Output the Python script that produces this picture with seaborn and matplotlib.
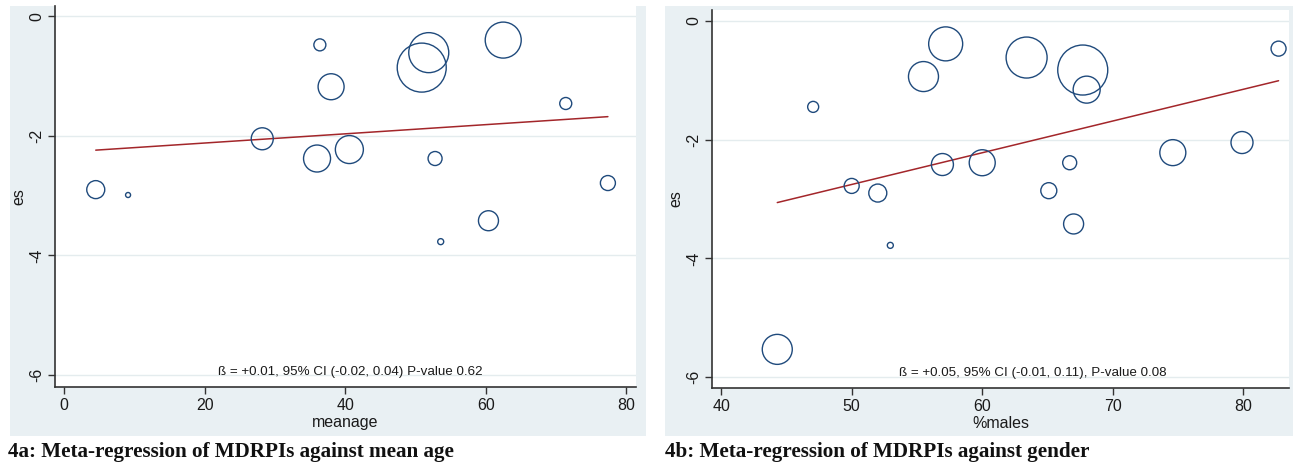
"""
Meta-regression bubble plots: effect size (es) vs mean age and vs % males
"""
import numpy as np
import pandas as pd
import matplotlib
matplotlib.use('Agg')
import matplotlib.pyplot as plt
from matplotlib.patches import Rectangle
import seaborn as sns

# ============================================================================
# DATA
# ============================================================================
# panel 4a: mean age
age_x = [4.5, 9.1, 28.2, 36.4, 38.0, 36.0, 40.6, 50.9, 51.9, 62.5, 52.8, 53.6, 60.4, 71.4, 77.4]
age_es = [-2.90, -2.99, -2.05, -0.48, -1.18, -2.38, -2.23, -0.86, -0.61, -0.40, -2.38, -3.77, -3.42, -1.46, -2.79]
age_r = [9, 2.5, 11, 6, 13, 13.5, 14, 24.5, 20, 18, 7, 3, 10, 6, 7.5]   # bubble radius, px
age_fit_x = [4.5, 77.4]
age_fit_y = [-2.24, -1.68]
age_note = 'ß = +0.01, 95% CI (-0.02, 0.04) P-value 0.62'

# panel 4b: % males
males_x = [44.3, 47.05, 50.0, 52.0, 52.96, 55.5, 57.2, 56.95, 60.0, 63.4, 67.7, 68.0,
           65.1, 66.7, 67.0, 74.6, 79.9, 82.7]
males_es = [-5.53, -1.45, -2.78, -2.90, -3.78, -0.94, -0.39, -2.42, -2.39, -0.62, -0.83, -1.16,
            -2.86, -2.39, -3.42, -2.22, -2.05, -0.47]
males_r = [15, 5.5, 7.5, 9, 3, 15, 17, 11, 13, 20.5, 25, 13.5, 8, 7, 10, 13, 11, 7.5]
males_fit_x = [44.3, 82.7]
males_fit_y = [-3.06, -1.01]
males_note = 'ß = +0.05, 95% CI (-0.01, 0.11), P-value 0.08'

# ============================================================================
# STYLE
# ============================================================================
sns.set_theme(style='white')
plt.rcParams['font.family'] = ['Liberation Sans', 'DejaVu Sans']

W, H, DPI = 1293, 463, 100
PANEL_BG = '#e9f0f3'
CIRCLE = '#1f4a7c'
FIT = '#a3262a'
TXT = '#1a1a1a'

fig = plt.figure(figsize=(W / DPI, H / DPI), dpi=DPI)
fig.patch.set_facecolor('white')


def px_box(x0, y0, x1, y1):
    """pixel box (top-left origin) -> figure fraction [l, b, w, h]"""
    return [x0 / W, 1 - y1 / H, (x1 - x0) / W, (y1 - y0) / H]


# panel backgrounds (behind the axes)
for x0, x1 in [(10, 646), (665, 1293)]:
    l, b, w, h = px_box(x0, 6, x1, 436)
    fig.patches.append(Rectangle((l, b), w, h, transform=fig.transFigure,
                                 facecolor=PANEL_BG, edgecolor='none', zorder=-10))


def draw_panel(box, xs, es, radii, fit_x, fit_y, xlim, ylim, xticks, xlabel, note, note_x):
    ax = fig.add_axes(box)
    ax.set_facecolor('white')
    df = pd.DataFrame({'x': xs, 'es': es, 'area': [(1.44 * r) ** 2 for r in radii]})
    amin, amax = df['area'].min(), df['area'].max()

    for yv in [0, -2, -4, -6]:
        ax.axhline(yv, color='#e4ecee', lw=1.0, zorder=0)

    sns.lineplot(x=fit_x, y=fit_y, color=FIT, lw=1.1, ax=ax, zorder=2)
    sns.scatterplot(data=df, x='x', y='es', size='area', sizes=(amin, amax),
                    size_norm=(amin, amax), legend=False, marker='o',
                    facecolor='none', edgecolor=CIRCLE, linewidth=1.0, ax=ax, zorder=3)

    ax.set_xlim(*xlim)
    ax.set_ylim(*ylim)
    ax.set_xticks(xticks)
    ax.set_yticks([0, -2, -4, -6])
    ax.set_yticklabels(['0', '-2', '-4', '-6'], rotation=90, va='center')
    ax.tick_params(axis='both', direction='out', length=5, width=1, color='#333333',
                   labelsize=11.5, labelcolor=TXT, pad=3, left=True, bottom=True)
    for s in ['top', 'right']:
        ax.spines[s].set_visible(False)
    for s in ['left', 'bottom']:
        ax.spines[s].set_color('#333333')
        ax.spines[s].set_linewidth(1.2)
    ax.set_xlabel(xlabel, fontsize=11.5, color=TXT, labelpad=1)
    ax.set_ylabel('es', fontsize=11.5, color=TXT, labelpad=1.5)
    ax.text(note_x, 0.04, note, transform=ax.transAxes, ha='center', va='center',
            fontsize=9.6, color=TXT)
    return ax


draw_panel(px_box(55, 6, 636, 387), age_x, age_es, age_r, age_fit_x, age_fit_y,
           (-1.3, 81.4), (-6.2, 0.17), [0, 20, 40, 60, 80], 'meanage', age_note, 0.508)
draw_panel(px_box(712, 10, 1289, 388), males_x, males_es, males_r, males_fit_x, males_fit_y,
           (39.3, 83.5), (-6.18, 0.18), [40, 50, 60, 70, 80], '%males', males_note, 0.556)

# captions
cap_kw = dict(fontsize=15.2, fontweight='bold', color='#111111', va='center', ha='left',
              family=['Liberation Serif', 'DejaVu Serif'])
fig.text(8 / W, 1 - 452 / H, '4a: Meta-regression of MDRPIs against mean age', **cap_kw)
fig.text(665 / W, 1 - 452 / H, '4b: Meta-regression of MDRPIs against gender', **cap_kw)

fig.savefig('out.png', dpi=DPI, facecolor='white')
print('saved out.png')
